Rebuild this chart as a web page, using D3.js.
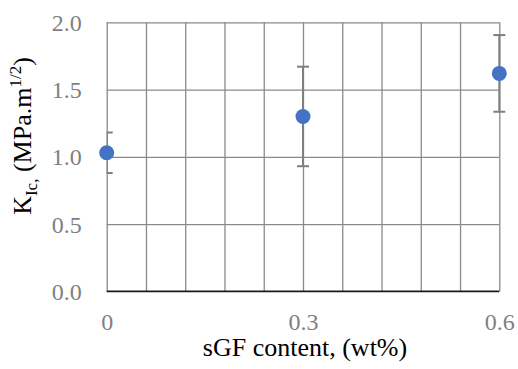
<!DOCTYPE html>
<html>
<head>
<meta charset="utf-8">
<script src="https://cdn.jsdelivr.net/npm/d3@7"></script>
<style>
  html, body { margin: 0; padding: 0; background: #fff; }
  svg { display: block; }
  svg text { font-family: 'Liberation Serif', 'Times New Roman', serif; }
</style>
</head>
<body>
<svg id="chart" width="518" height="369"></svg>
<script>
// ---- data ----
const sgfContent = [0, 0.3, 0.6];
const kicValues = [1.03, 1.30, 1.62];
const kicErrors = [0.15, 0.37, 0.285];
const xTickLabels = [0, 0.3, 0.6];
const xGridTicks = [0, 0.06, 0.12, 0.18, 0.24, 0.3, 0.36, 0.42, 0.48, 0.54, 0.6];
const yTicks = [0, 0.5, 1.0, 1.5, 2.0];

(function () {
const svg = d3.select("#chart");
const pL = 106.7, pR = 499.3, pT = 22.3, pB = 291.3;
const x = d3.scaleLinear().domain([0, 0.6]).range([pL, pR]);
const y = d3.scaleLinear().domain([0, 2]).range([pB, pT]);
const gridColor = "#8a8a8a";
const labelColor = "#7f7f7f";
const serif = "'Liberation Serif', 'Times New Roman', serif";

// vertical grid
const gx = svg.append("g").attr("transform", `translate(0,${pB})`)
  .call(d3.axisBottom(x).tickValues(xGridTicks).tickSize(-(pB - pT)).tickFormat(""));
gx.select(".domain").remove();
gx.selectAll(".tick line").attr("stroke", gridColor).attr("stroke-width", 1.3);

// horizontal grid
const gy = svg.append("g").attr("transform", `translate(${pL},0)`)
  .call(d3.axisLeft(y).tickValues(yTicks).tickSize(-(pR - pL)).tickFormat(""));
gy.select(".domain").remove();
gy.selectAll(".tick line").attr("stroke", gridColor).attr("stroke-width", 1.3);

// bottom axis line
svg.append("line").attr("x1", pL).attr("x2", pR).attr("y1", y(0)).attr("y2", y(0))
  .attr("stroke", "#1a1a1a").attr("stroke-width", 1.6);

// y tick labels
const yl = svg.append("g").attr("transform", `translate(${pL},0)`)
  .call(d3.axisLeft(y).tickValues(yTicks).tickSize(0).tickPadding(25).tickFormat(d3.format(".1f")));
yl.select(".domain").remove();
yl.attr("font-family", serif);
yl.selectAll("text").style("font-family", serif).attr("font-size", 24).attr("fill", labelColor)
  .attr("dy", "0.34em");

// x tick labels
const xl = svg.append("g").attr("transform", `translate(0,${pB})`)
  .call(d3.axisBottom(x).tickValues(xTickLabels).tickSize(0).tickPadding(22).tickFormat(d => d === 0 ? "0" : d3.format(".1f")(d)));
xl.select(".domain").remove();
xl.attr("font-family", serif);
xl.selectAll("text").style("font-family", serif).attr("font-size", 24).attr("fill", labelColor)
  .attr("dy", "0.71em");

// error bars (clipped to plot area on the left)
svg.append("clipPath").attr("id", "clip").append("rect")
  .attr("x", pL).attr("y", 0).attr("width", 518 - pL).attr("height", 369);
const eg = svg.append("g").attr("clip-path", "url(#clip)");
const errColor = "#7f7f7f";
const cap = 6;
sgfContent.forEach((d, i) => {
  const cx = x(d);
  const hi = y(kicValues[i] + kicErrors[i]);
  const lo = y(kicValues[i] - kicErrors[i]);
  eg.append("line").attr("x1", cx).attr("x2", cx).attr("y1", hi).attr("y2", lo)
    .attr("stroke", errColor).attr("stroke-width", 2);
  eg.append("line").attr("x1", cx - cap).attr("x2", cx + cap).attr("y1", hi).attr("y2", hi)
    .attr("stroke", errColor).attr("stroke-width", 2);
  eg.append("line").attr("x1", cx - cap).attr("x2", cx + cap).attr("y1", lo).attr("y2", lo)
    .attr("stroke", errColor).attr("stroke-width", 2);
});

// points
svg.append("g").selectAll("circle").data(sgfContent).join("circle")
  .attr("cx", d => x(d)).attr("cy", (d, i) => y(kicValues[i])).attr("r", 7.5)
  .attr("fill", "#4472C4");

// x title
svg.append("text").attr("x", 305).attr("y", 356).attr("text-anchor", "middle")
  .style("font-family", serif).attr("font-size", 26).attr("fill", "#000")
  .text("sGF content, (wt%)");

// y title
const yt = svg.append("text").attr("transform", "translate(31,136) rotate(-90)")
  .attr("text-anchor", "middle").style("font-family", serif).attr("font-size", 26).attr("fill", "#000");
yt.append("tspan").text("K");
yt.append("tspan").attr("font-size", 17).attr("dy", 6).text("Ic,");
yt.append("tspan").attr("dy", -6).text(" (MPa.m");
yt.append("tspan").attr("font-size", 17).attr("dy", -10).text("1/2");
yt.append("tspan").attr("dy", 10).text(")");
})();
</script>
</body>
</html>
